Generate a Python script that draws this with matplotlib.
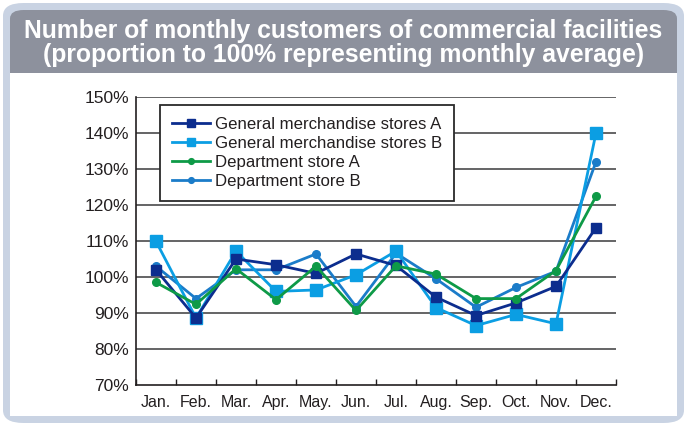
import matplotlib
matplotlib.use("Agg")
import matplotlib.pyplot as plt
from matplotlib.patches import FancyBboxPatch
import numpy as np

months = ["Jan.", "Feb.", "Mar.", "Apr.", "May.", "Jun.", "Jul.", "Aug.", "Sep.", "Oct.", "Nov.", "Dec."]
gms_a = [102, 88.6, 105, 103.4, 101, 106.4, 103.2, 94.4, 89.3, 92.8, 97.4, 113.7]
gms_b = [109.9, 88.6, 107.2, 96, 96.4, 100.6, 107.2, 91.5, 86.5, 89.6, 87, 140]
dept_a = [98.5, 92.4, 102.3, 93.7, 103, 90.7, 103.1, 100.8, 94, 94, 101.8, 122.4]
dept_b = [103, 94, 102, 102, 106.4, 91.8, 106.6, 99.5, 91.6, 97.1, 101.6, 132]
series_names = ["General merchandise stores A", "General merchandise stores B",
                "Department store A", "Department store B"]
yticks = [70, 80, 90, 100, 110, 120, 130, 140, 150]

plt.rcParams['font.family'] = ['Liberation Sans', 'DejaVu Sans']

fig = plt.figure(figsize=(6.87, 4.26), dpi=100)
W, H = 687, 426

# outer rounded frame
outer = FancyBboxPatch((3/W, 3/H), 681/W, 420/H,
                       boxstyle="round,pad=0,rounding_size=0.03",
                       transform=fig.transFigure, facecolor="#c9d3e3",
                       edgecolor="none", zorder=0)
fig.patches.append(outer)
header = FancyBboxPatch((10/W, 10/H), 667/W, 406/H,
                        boxstyle="round,pad=0,rounding_size=0.02",
                        transform=fig.transFigure, facecolor="#8d919d",
                        edgecolor="none", zorder=1)
fig.patches.append(header)
body = plt.Rectangle((10/W, 10/H), 667/W, (426-73-10)/H,
                     transform=fig.transFigure, facecolor="white",
                     edgecolor="none", zorder=2)
fig.patches.append(body)

fig.text(0.5, 1 - 43/426, "Number of monthly customers of commercial facilities\n(proportion to 100% representing monthly average)",
         ha="center", va="center", color="white", fontsize=17.8, fontweight="bold",
         family=['Liberation Sans Narrow', 'Liberation Sans', 'DejaVu Sans'],
         linespacing=1.0, zorder=3)

ax = fig.add_axes([136/W, 1 - 385/H, 480/W, 288/H])
ax.set_zorder(4)
ax.patch.set_alpha(0)

x = np.arange(len(months)) + 0.5
ax.plot(x, gms_a, color="#0c2d8e", lw=2, marker="s", ms=7.5, label=series_names[0], zorder=5)
ax.plot(x, gms_b, color="#0b9ee3", lw=2, marker="s", ms=8.5, label=series_names[1], zorder=4)
ax.plot(x, dept_a, color="#0e9a47", lw=2, marker="o", ms=5.5, label=series_names[2], zorder=6)
ax.plot(x, dept_b, color="#1b7cc9", lw=2, marker="o", ms=5.5, label=series_names[3], zorder=3)

ax.set_xlim(0, 12)
ax.set_ylim(70, 150)
ax.set_yticks(yticks)
ax.set_yticklabels([f"{v}%" for v in yticks], fontsize=12.5, color="#231f20")
for v in yticks[1:]:
    ax.axhline(v, color="#4a4a4c", lw=1.2, zorder=1)
ax.set_xticks(np.arange(0, 13))
ax.set_xticklabels([])
ax.set_xticks(x, minor=True)
ax.set_xticklabels(months, minor=True, fontsize=11.5, color="#231f20")
ax.tick_params(axis="x", which="major", direction="in", length=4, color="#231f20", width=1)
ax.tick_params(axis="x", which="minor", length=0, pad=7)
ax.tick_params(axis="y", length=0, pad=5)
for s in ["top", "right"]:
    ax.spines[s].set_visible(False)
for s in ["left", "bottom"]:
    ax.spines[s].set_color("#231f20")
    ax.spines[s].set_linewidth(1.2)

leg = ax.legend(loc="upper left", bbox_to_anchor=((160-136)/480, 1 - (105-97)/288),
                borderaxespad=0, fontsize=12.1, frameon=True, fancybox=False,
                edgecolor="#2a2a2a", framealpha=1,
                handlelength=2.3, handletextpad=0.25, borderpad=0.7, labelspacing=0.25,
                markerscale=0.75)
leg.get_frame().set_linewidth(1.3)
for t in leg.get_texts():
    t.set_color("#231f20")

fig.savefig("out.png", dpi=100)
